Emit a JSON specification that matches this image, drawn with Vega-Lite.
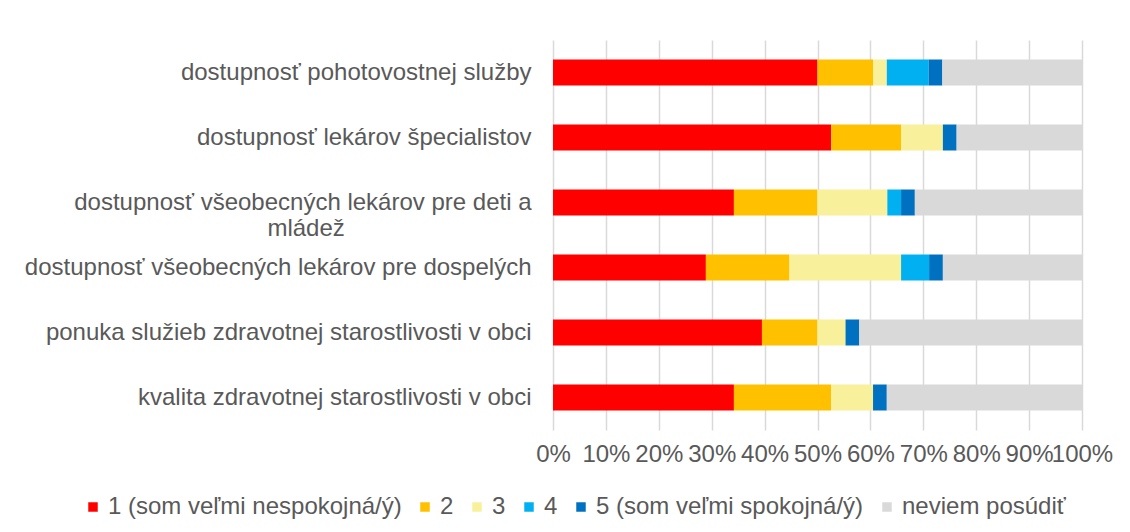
{
  "$schema": "https://vega.github.io/schema/vega-lite/v6.json",
  "width": 529,
  "height": 390,
  "autosize": {"type": "none"},
  "padding": {"left": 553, "top": 40, "right": 48, "bottom": 102},
  "background": "white",
  "config": {
    "view": {"stroke": null},
    "font": "Liberation Sans"
  },
  "data": {
    "values": [
      {"cat": "dostupnosť pohotovostnej služby", "resp": "1 (som veľmi nespokojná/ý)", "o": 1, "v": 50.0},
      {"cat": "dostupnosť pohotovostnej služby", "resp": "2", "o": 2, "v": 10.5},
      {"cat": "dostupnosť pohotovostnej služby", "resp": "3", "o": 3, "v": 2.6},
      {"cat": "dostupnosť pohotovostnej služby", "resp": "4", "o": 4, "v": 7.9},
      {"cat": "dostupnosť pohotovostnej služby", "resp": "5 (som veľmi spokojná/ý)", "o": 5, "v": 2.6},
      {"cat": "dostupnosť pohotovostnej služby", "resp": "neviem posúdiť", "o": 6, "v": 26.4},
      {"cat": "dostupnosť lekárov špecialistov", "resp": "1 (som veľmi nespokojná/ý)", "o": 1, "v": 52.6},
      {"cat": "dostupnosť lekárov špecialistov", "resp": "2", "o": 2, "v": 13.2},
      {"cat": "dostupnosť lekárov špecialistov", "resp": "3", "o": 3, "v": 7.9},
      {"cat": "dostupnosť lekárov špecialistov", "resp": "5 (som veľmi spokojná/ý)", "o": 5, "v": 2.6},
      {"cat": "dostupnosť lekárov špecialistov", "resp": "neviem posúdiť", "o": 6, "v": 23.7},
      {"cat": "dostupnosť všeobecných lekárov pre deti a mládež", "resp": "1 (som veľmi nespokojná/ý)", "o": 1, "v": 34.2},
      {"cat": "dostupnosť všeobecných lekárov pre deti a mládež", "resp": "2", "o": 2, "v": 15.8},
      {"cat": "dostupnosť všeobecných lekárov pre deti a mládež", "resp": "3", "o": 3, "v": 13.2},
      {"cat": "dostupnosť všeobecných lekárov pre deti a mládež", "resp": "4", "o": 4, "v": 2.6},
      {"cat": "dostupnosť všeobecných lekárov pre deti a mládež", "resp": "5 (som veľmi spokojná/ý)", "o": 5, "v": 2.6},
      {"cat": "dostupnosť všeobecných lekárov pre deti a mládež", "resp": "neviem posúdiť", "o": 6, "v": 31.6},
      {"cat": "dostupnosť všeobecných lekárov pre dospelých", "resp": "1 (som veľmi nespokojná/ý)", "o": 1, "v": 28.9},
      {"cat": "dostupnosť všeobecných lekárov pre dospelých", "resp": "2", "o": 2, "v": 15.8},
      {"cat": "dostupnosť všeobecných lekárov pre dospelých", "resp": "3", "o": 3, "v": 21.1},
      {"cat": "dostupnosť všeobecných lekárov pre dospelých", "resp": "4", "o": 4, "v": 5.3},
      {"cat": "dostupnosť všeobecných lekárov pre dospelých", "resp": "5 (som veľmi spokojná/ý)", "o": 5, "v": 2.6},
      {"cat": "dostupnosť všeobecných lekárov pre dospelých", "resp": "neviem posúdiť", "o": 6, "v": 26.3},
      {"cat": "ponuka služieb zdravotnej starostlivosti v obci", "resp": "1 (som veľmi nespokojná/ý)", "o": 1, "v": 39.5},
      {"cat": "ponuka služieb zdravotnej starostlivosti v obci", "resp": "2", "o": 2, "v": 10.5},
      {"cat": "ponuka služieb zdravotnej starostlivosti v obci", "resp": "3", "o": 3, "v": 5.3},
      {"cat": "ponuka služieb zdravotnej starostlivosti v obci", "resp": "5 (som veľmi spokojná/ý)", "o": 5, "v": 2.6},
      {"cat": "ponuka služieb zdravotnej starostlivosti v obci", "resp": "neviem posúdiť", "o": 6, "v": 42.1},
      {"cat": "kvalita zdravotnej starostlivosti v obci", "resp": "1 (som veľmi nespokojná/ý)", "o": 1, "v": 34.2},
      {"cat": "kvalita zdravotnej starostlivosti v obci", "resp": "2", "o": 2, "v": 18.4},
      {"cat": "kvalita zdravotnej starostlivosti v obci", "resp": "3", "o": 3, "v": 7.9},
      {"cat": "kvalita zdravotnej starostlivosti v obci", "resp": "5 (som veľmi spokojná/ý)", "o": 5, "v": 2.6},
      {"cat": "kvalita zdravotnej starostlivosti v obci", "resp": "neviem posúdiť", "o": 6, "v": 36.9}
    ]
  },
  "mark": {"type": "bar"},
  "encoding": {
    "y": {
      "field": "cat",
      "type": "nominal",
      "sort": null,
      "scale": {"paddingInner": 0.6, "paddingOuter": 0.3},
      "axis": {
        "title": null,
        "ticks": false,
        "domain": false,
        "grid": false,
        "labelFont": "Liberation Sans",
        "labelFontSize": 24,
        "labelColor": "#595959",
        "labelLimit": 0,
        "labelLineHeight": 26,
        "labelPadding": 22,
        "labelAlign": "right",
        "labelExpr": "datum.value === 'dostupnosť všeobecných lekárov pre deti a mládež' ? ['dostupnosť všeobecných lekárov pre deti a', 'mládež\u00a0\u00a0\u00a0\u00a0\u00a0\u00a0\u00a0\u00a0\u00a0\u00a0\u00a0\u00a0\u00a0\u00a0\u00a0\u00a0\u00a0\u00a0\u00a0\u00a0\u00a0\u00a0\u00a0\u00a0\u00a0\u00a0\u00a0\u00a0\u2060'] : datum.value"
      }
    },
    "x": {
      "field": "v",
      "type": "quantitative",
      "stack": "zero",
      "scale": {"domain": [0, 100], "nice": false},
      "axis": {
        "title": null,
        "values": [0, 10, 20, 30, 40, 50, 60, 70, 80, 90, 100],
        "labelExpr": "datum.value + '%'",
        "ticks": false,
        "domain": false,
        "grid": true,
        "gridColor": "#D9D9D9",
        "gridWidth": 1.5,
        "labelFont": "Liberation Sans",
        "labelFontSize": 24,
        "labelColor": "#595959",
        "labelPadding": 12,
        "labelOverlap": false,
        "labelFlush": false,
        "labelBound": false
      }
    },
    "color": {
      "field": "resp",
      "type": "nominal",
      "scale": {
        "domain": ["1 (som veľmi nespokojná/ý)", "2", "3", "4", "5 (som veľmi spokojná/ý)", "neviem posúdiť"],
        "range": ["#FF0000", "#FFC000", "#F8F09B", "#00B0F0", "#0070C0", "#D9D9D9"]
      },
      "legend": {
        "title": null,
        "orient": "none",
        "direction": "horizontal",
        "legendX": -472,
        "legendY": 455,
        "symbolType": "square",
        "symbolSize": 90,
        "symbolStrokeWidth": 0,
        "symbolOpacity": 1,
        "labelFont": "Liberation Sans",
        "labelFontSize": 24,
        "labelColor": "#595959",
        "labelOffset": 3,
        "columnPadding": 11,
        "labelLimit": 0
      }
    },
    "order": {"field": "o", "type": "quantitative", "sort": "ascending"}
  }
}
